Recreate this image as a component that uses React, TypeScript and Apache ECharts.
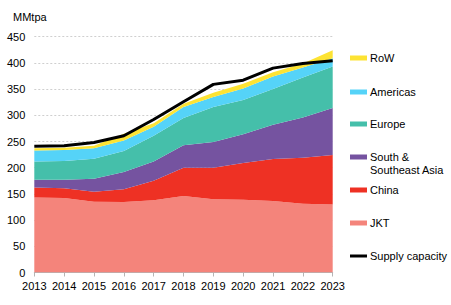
import React, { useEffect, useRef } from "react";
import * as echarts from "echarts";

const years = ["2013", "2014", "2015", "2016", "2017", "2018", "2019", "2020", "2021", "2022", "2023"];
const jkt = [143, 142, 135, 134.5, 138, 146, 140, 139, 136.5, 131, 130];
const china = [19, 19, 19, 24.5, 37, 54, 60, 70, 80, 88, 94];
const ssea = [15, 16, 25, 33, 37, 43, 49, 55, 65.5, 77, 90];
const europe = [35, 36, 38, 40, 49, 52, 67, 65, 68, 76, 79];
const americas = [21, 21, 20, 20, 17, 21, 19, 22, 24, 19, 16];
const row = [4, 4, 5, 13, 7, 6, 8, 9, 8, 8, 15];
const supply = [241, 242, 248, 261, 292, 326, 359, 367, 390, 399, 404];

const areaSeries = [
  { name: "JKT", data: jkt, color: "#F4847B" },
  { name: "China", data: china, color: "#EE3124" },
  { name: "South & Southeast Asia", data: ssea, color: "#7553A0" },
  { name: "Europe", data: europe, color: "#45BFAA" },
  { name: "Americas", data: americas, color: "#55D3F8" },
  { name: "RoW", data: row, color: "#FDE333" },
];
const supplyName = "Supply capacity";
const legendLabels: Record<string, string> = {
  "South & Southeast Asia": "South &\nSoutheast Asia",
};

const FONT = "'Liberation Sans', Arial, sans-serif";

export default function App() {
  const ref = useRef<HTMLDivElement>(null);
  useEffect(() => {
    if (!ref.current) return;
    const chart = echarts.init(ref.current, undefined, { renderer: "svg" });

    const legendOrder = [...areaSeries].reverse();
    const legendY = [58, 92, 124, 157, 190, 223, 256];
    const lh = 12.5;
    const graphics: any[] = [];
    legendOrder.forEach((s, i) => {
      const cy = legendY[i];
      graphics.push({
        type: "rect",
        shape: { x: 350, y: cy - 2.5, width: 17, height: 5 },
        style: { fill: s.color },
      });
      graphics.push({
        type: "text",
        x: 370,
        y: cy - lh / 2,
        style: {
          text: legendLabels[s.name] || s.name,
          font: `11px ${FONT}`,
          fill: "#000",
          lineHeight: lh,
          verticalAlign: "top",
        },
      });
    });
    const sy = legendY[6];
    graphics.push({
      type: "line",
      shape: { x1: 350, y1: sy, x2: 367, y2: sy },
      style: { stroke: "#000", lineWidth: 3 },
    });
    graphics.push({
      type: "text",
      x: 370,
      y: sy - lh / 2,
      style: { text: supplyName, font: `11px ${FONT}`, fill: "#000", lineHeight: lh, verticalAlign: "top" },
    });

    chart.setOption({
      animation: false,
      backgroundColor: "#fff",
      textStyle: { fontFamily: FONT },
      title: {
        text: "MMtpa",
        left: 8,
        top: 6,
        textStyle: { fontSize: 11, fontWeight: "normal", color: "#000", fontFamily: FONT },
      },
      grid: { left: 34.3, right: 118.3, top: 36.7, bottom: 32.5 },
      xAxis: {
        type: "category",
        data: years,
        boundaryGap: false,
        axisLine: { lineStyle: { color: "#b5b5b5", width: 1 } },
        axisTick: { show: true, length: 4, alignWithLabel: true, lineStyle: { color: "#b5b5b5" } },
        axisLabel: { color: "#000", fontSize: 11, fontFamily: FONT, margin: 8, interval: 0 },
        splitLine: { show: false },
      },
      yAxis: {
        type: "value",
        min: 0,
        max: 450,
        interval: 50,
        axisLine: { show: false },
        axisTick: { show: false },
        axisLabel: { color: "#000", fontSize: 11, fontFamily: FONT, margin: 9 },
        splitLine: { show: true, lineStyle: { color: "#cfcfcf", type: [2, 2], width: 1 } },
      },
      graphic: graphics,
      series: [
        ...areaSeries.map((s) => ({
          name: s.name,
          type: "line",
          stack: "total",
          data: s.data,
          symbol: "none",
          lineStyle: { width: 0 },
          areaStyle: { color: s.color, opacity: 1 },
          itemStyle: { color: s.color },
          z: 2,
        })),
        {
          name: supplyName,
          type: "line",
          data: supply,
          symbol: "none",
          lineStyle: { color: "#000", width: 3 },
          itemStyle: { color: "#000" },
          z: 5,
        },
      ],
    });
    return () => chart.dispose();
  }, []);
  return (
    <div
      ref={ref}
      style={{ position: "fixed", left: 0, top: 0, width: 451, height: 305 }}
    />
  );
}
